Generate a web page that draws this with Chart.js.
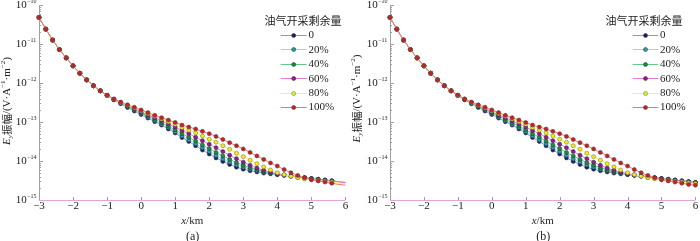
<!DOCTYPE html>
<html lang="zh">
<head>
<meta charset="UTF-8">
<title>Ey振幅 - 油气开采剩余量</title>
<script src="https://cdn.jsdelivr.net/npm/chart.js"></script>
<style>
  body { margin: 0; background: #fff; }
  .panel { position: absolute; top: 0; width: 350px; height: 241px; }
</style>
</head>
<body>
<div class="panel" style="left:0"><canvas id="chartA" width="350" height="241"></canvas></div>
<div class="panel" style="left:350px"><canvas id="chartB" width="350" height="241"></canvas></div>
<script>
// x position (km)
const xKm = [-3, -2.8, -2.6, -2.4, -2.2, -2, -1.8, -1.6, -1.4, -1.2, -1,
  -0.8, -0.6, -0.4, -0.2, 0, 0.2, 0.4, 0.6, 0.8, 1,
  1.2, 1.4, 1.6, 1.8, 2, 2.2, 2.4, 2.6, 2.8, 3,
  3.2, 3.4, 3.6, 3.8, 4, 4.2, 4.4, 4.6, 4.8, 5,
  5.2, 5.4, 5.6, 5.8, 6];

// Ey amplitude (V·A^-1·m^-2), one array per remaining-reserve level
const ey0 = [4.8e-11, 2.4e-11, 1.26e-11, 7.2e-12, 4.4e-12, 2.75e-12, 1.78e-12, 1.2e-12, 8.5e-13, 6.3e-13, 4.8e-13,
  3.72e-13, 2.95e-13, 2.34e-13, 1.91e-13, 1.55e-13, 1.26e-13, 1.02e-13, 8.32e-14, 6.61e-14, 5.25e-14,
  3.98e-14, 3.16e-14, 2.46e-14, 1.91e-14, 1.51e-14, 1.2e-14, 9.77e-15, 8.13e-15, 6.92e-15, 6.17e-15,
  5.62e-15, 5.25e-15, 4.9e-15, 4.68e-15, 4.47e-15, 4.27e-15, 4.07e-15, 3.89e-15, 3.72e-15, 3.55e-15,
  3.39e-15, 3.24e-15, 3.09e-15, 2.95e-15, 2.82e-15];
const ey20 = [4.8e-11, 2.4e-11, 1.26e-11, 7.2e-12, 4.4e-12, 2.75e-12, 1.78e-12, 1.2e-12, 8.5e-13, 6.3e-13, 4.8e-13,
  3.72e-13, 3.02e-13, 2.46e-13, 2.0e-13, 1.62e-13, 1.32e-13, 1.07e-13, 8.71e-14, 7.08e-14, 5.62e-14,
  4.37e-14, 3.47e-14, 2.75e-14, 2.19e-14, 1.74e-14, 1.38e-14, 1.12e-14, 9.33e-15, 7.94e-15, 6.92e-15,
  6.17e-15, 5.62e-15, 5.13e-15, 4.79e-15, 4.57e-15, 4.37e-15, 4.17e-15, 3.98e-15, 3.72e-15, 3.55e-15,
  3.39e-15, 3.24e-15, 3.09e-15, 2.95e-15, 2.82e-15];
const ey40 = [4.8e-11, 2.4e-11, 1.26e-11, 7.2e-12, 4.4e-12, 2.75e-12, 1.78e-12, 1.2e-12, 8.5e-13, 6.3e-13, 4.8e-13,
  3.8e-13, 3.09e-13, 2.51e-13, 2.09e-13, 1.74e-13, 1.41e-13, 1.17e-13, 9.55e-14, 7.76e-14, 6.31e-14,
  5.01e-14, 4.07e-14, 3.24e-14, 2.57e-14, 2.09e-14, 1.66e-14, 1.35e-14, 1.1e-14, 9.12e-15, 7.76e-15,
  6.76e-15, 6.03e-15, 5.37e-15, 5.01e-15, 4.68e-15, 4.37e-15, 4.17e-15, 3.89e-15, 3.72e-15, 3.55e-15,
  3.39e-15, 3.24e-15, 3.09e-15, 2.95e-15, 2.82e-15];
const ey60 = [4.8e-11, 2.4e-11, 1.26e-11, 7.2e-12, 4.4e-12, 2.75e-12, 1.78e-12, 1.2e-12, 8.5e-13, 6.3e-13, 4.8e-13,
  3.8e-13, 3.16e-13, 2.63e-13, 2.19e-13, 1.82e-13, 1.51e-13, 1.29e-13, 1.07e-13, 8.91e-14, 7.41e-14,
  6.03e-14, 5.01e-14, 4.07e-14, 3.31e-14, 2.69e-14, 2.19e-14, 1.74e-14, 1.41e-14, 1.15e-14, 9.33e-15,
  7.76e-15, 6.61e-15, 5.75e-15, 5.13e-15, 4.68e-15, 4.37e-15, 4.07e-15, 3.8e-15, 3.63e-15, 3.47e-15,
  3.31e-15, 3.16e-15, 3.02e-15, 2.88e-15, 2.75e-15];
const ey80 = [4.8e-11, 2.4e-11, 1.26e-11, 7.2e-12, 4.4e-12, 2.75e-12, 1.78e-12, 1.2e-12, 8.5e-13, 6.3e-13, 4.8e-13,
  3.89e-13, 3.16e-13, 2.69e-13, 2.29e-13, 1.95e-13, 1.66e-13, 1.41e-13, 1.2e-13, 1.02e-13, 8.71e-14,
  7.24e-14, 6.17e-14, 5.25e-14, 4.37e-14, 3.63e-14, 3.02e-14, 2.46e-14, 2.0e-14, 1.58e-14, 1.29e-14,
  1.05e-14, 8.51e-15, 7.08e-15, 5.89e-15, 5.01e-15, 4.47e-15, 4.07e-15, 3.72e-15, 3.47e-15, 3.31e-15,
  3.16e-15, 3.02e-15, 2.88e-15, 2.75e-15, 2.63e-15];
const ey100 = [4.8e-11, 2.4e-11, 1.26e-11, 7.2e-12, 4.4e-12, 2.75e-12, 1.78e-12, 1.2e-12, 8.5e-13, 6.3e-13, 4.9e-13,
  3.89e-13, 3.24e-13, 2.75e-13, 2.4e-13, 2.04e-13, 1.74e-13, 1.48e-13, 1.29e-13, 1.12e-13, 9.77e-14,
  8.32e-14, 7.41e-14, 6.61e-14, 5.75e-14, 5.01e-14, 4.27e-14, 3.55e-14, 2.95e-14, 2.46e-14, 2.04e-14,
  1.66e-14, 1.35e-14, 1.1e-14, 8.91e-15, 7.41e-15, 6.03e-15, 5.01e-15, 4.27e-15, 3.72e-15, 3.31e-15,
  3.09e-15, 2.88e-15, 2.69e-15, 2.51e-15, 2.4e-15];

const seriesData = [ey0, ey20, ey40, ey60, ey80, ey100];
const seriesLabels = ["0", "20%", "40%", "60%", "80%", "100%"];
const legendTitle = "油气开采剩余量";

const xTicks = [-3, -2, -1, 0, 1, 2, 3, 4, 5, 6];
const yTickPowers = [-15, -14, -13, -12, -11, -10];

const lineColors = ["#9494d0", "#84e2e2", "#62c88e", "#e278d8", "#f4f266", "#f27474"];
const markerColors = ["#1a1a78", "#22a2aa", "#129448", "#9a1a8c", "#f6f000", "#d81a1a"];
const markerBorders = ["#333", "#335", "#333", "#333", "#777", "#444"];
const MARKER_R = 2;

const SERIF = '"Liberation Serif", "DejaVu Serif", serif';
const CJK = '"Noto Sans CJK SC", sans-serif';
const TEXT = "#222";

function buildDatasets(markerMaxX) {
  return seriesData.map((vals, i) => ({
    label: seriesLabels[i],
    data: xKm.map((x, k) => ({ x: x, y: vals[k] })),
    borderColor: lineColors[i],
    borderWidth: 1,
    backgroundColor: markerColors[i],
    pointBackgroundColor: markerColors[i],
    pointBorderColor: markerBorders[i],
    pointBorderWidth: 0.6,
    pointRadius: ctx => (xKm[ctx.dataIndex] > markerMaxX ? 0 : MARKER_R),
    tension: 0,
    order: 5 - i,
    clip: false
  }));
}

function drawRuns(ctx, runs, x, y) {
  // runs: [text, font, dy]; draws left to right from x
  runs.forEach(r => {
    ctx.font = r[1];
    ctx.fillText(r[0], x, y + (r[2] || 0));
    x += ctx.measureText(r[0]).width;
  });
}
function runsWidth(ctx, runs) {
  let w = 0;
  runs.forEach(r => { ctx.font = r[1]; w += ctx.measureText(r[0]).width; });
  return w;
}

const paperPlugin = {
  id: "paper",
  beforeDatasetsDraw(chart) {
    const { ctx, chartArea: a, scales: { x, y } } = chart;
    ctx.save();
    ctx.lineWidth = 1;
    // left axis with minor ticks
    ctx.strokeStyle = "#a0a0a0";
    ctx.beginPath();
    ctx.moveTo(a.left + 0.5, a.top);
    ctx.lineTo(a.left + 0.5, a.bottom);
    ctx.stroke();
    yTickPowers.forEach(p => {
      for (let m = 1; m <= 9; m++) {
        if (p === -10 && m > 1) break;
        const py = Math.round(y.getPixelForValue(m * Math.pow(10, p))) + 0.5;
        ctx.beginPath();
        ctx.moveTo(a.left, py);
        ctx.lineTo(a.left + (m === 1 ? 4 : 2), py);
        ctx.stroke();
      }
    });
    // x ticks
    xTicks.forEach(t => {
      const px = Math.round(x.getPixelForValue(t)) + 0.5;
      ctx.beginPath();
      ctx.moveTo(px, a.bottom);
      ctx.lineTo(px, a.bottom - 3);
      ctx.stroke();
    });
    // bottom axis
    ctx.strokeStyle = "#e4a4da";
    ctx.beginPath();
    ctx.moveTo(a.left, a.bottom + 0.5);
    ctx.lineTo(a.right, a.bottom + 0.5);
    ctx.stroke();
    ctx.restore();
  },
  afterDraw(chart, args, opts) {
    const { ctx, chartArea: a, scales: { x, y } } = chart;
    ctx.save();
    ctx.fillStyle = TEXT;
    ctx.textBaseline = "middle";

    // y tick labels 10^n
    yTickPowers.forEach(p => {
      const py = y.getPixelForValue(Math.pow(10, p));
      ctx.font = "11px " + SERIF;
      ctx.textAlign = "right";
      ctx.fillText("10", a.left - 12.3, py);
      ctx.font = "6px " + SERIF;
      ctx.textAlign = "left";
      ctx.fillText("\u2212" + (-p), a.left - 11.8, py - 4);
    });

    // x tick labels
    ctx.font = "11px " + SERIF;
    ctx.textAlign = "center";
    xTicks.forEach(t => {
      const lab = t < 0 ? "\u2212" + (-t) : String(t);
      ctx.fillText(lab, x.getPixelForValue(t), a.bottom + 6);
    });

    // x title and panel tag
    ctx.textAlign = "left";
    const cx = (a.left + a.right) / 2;
    const xTitle = [["x", "italic 11px " + SERIF], ["/km", "11px " + SERIF]];
    drawRuns(ctx, xTitle, cx - runsWidth(ctx, xTitle) / 2, 221);
    ctx.font = "12px " + SERIF;
    ctx.textAlign = "center";
    ctx.fillText(opts.tag, cx + 0.5, 237);

    // y title (rotated)
    ctx.save();
    ctx.translate(opts.yTitleX, opts.yTitleY);
    ctx.rotate(-Math.PI / 2);
    ctx.textAlign = "left";
    const yTitle = [
      ["E", "italic 11px " + SERIF],
      ["y", "italic 7px " + SERIF, 3],
      ["振幅", "10.5px " + CJK],
      ["/(V·A", "11px " + SERIF],
      ["\u22121", "7px " + SERIF, -4],
      ["·m", "11px " + SERIF],
      ["\u22122", "7px " + SERIF, -4],
      [")", "11px " + SERIF]
    ];
    drawRuns(ctx, yTitle, -runsWidth(ctx, yTitle) / 2, 0);
    ctx.restore();

    // legend
    ctx.font = "11px " + CJK;
    ctx.textAlign = "center";
    ctx.fillText(legendTitle, opts.legTitleX, 21);
    ctx.textAlign = "left";
    seriesLabels.forEach((lab, i) => {
      const ly = 35 + i * 14.4;
      ctx.strokeStyle = lineColors[i];
      ctx.lineWidth = 1;
      ctx.beginPath();
      ctx.moveTo(opts.legLine[0], Math.round(ly) + 0.5);
      ctx.lineTo(opts.legLine[1], Math.round(ly) + 0.5);
      ctx.stroke();
      ctx.beginPath();
      ctx.arc((opts.legLine[0] + opts.legLine[1]) / 2, Math.round(ly) + 0.5, MARKER_R, 0, Math.PI * 2);
      ctx.fillStyle = markerColors[i];
      ctx.fill();
      ctx.lineWidth = 0.6;
      ctx.strokeStyle = markerBorders[i];
      ctx.stroke();
      ctx.fillStyle = TEXT;
      ctx.font = "11px " + SERIF;
      ctx.fillText(lab, opts.legLine[1] + 1.8, ly + 0.5);
    });
    ctx.restore();
  }
};

function makePanel(id, tag, pad, markerMaxX, paperOpts) {
  return new Chart(document.getElementById(id), {
    type: "line",
    data: { datasets: buildDatasets(markerMaxX) },
    options: {
      responsive: false,
      animation: false,
      devicePixelRatio: 1,
      layout: { padding: pad },
      scales: {
        x: { type: "linear", min: -3, max: 6, display: false },
        y: { type: "logarithmic", min: 1e-15, max: 1e-10, display: false }
      },
      plugins: {
        legend: { display: false },
        tooltip: { enabled: false },
        paper: Object.assign({ tag: tag }, paperOpts)
      }
    },
    plugins: [paperPlugin]
  });
}

makePanel("chartA", "(a)", { left: 39, right: 4.3, top: 5, bottom: 41 }, 5.7,
  { yTitleX: 7.5, yTitleY: 101, legTitleX: 303, legLine: [280.7, 306.7] });
makePanel("chartB", "(b)", { left: 40, right: 1.7, top: 5, bottom: 41 }, 6.1,
  { yTitleX: 7.5, yTitleY: 98.5, legTitleX: 294, legLine: [282.7, 308.3] });
</script>
</body>
</html>
